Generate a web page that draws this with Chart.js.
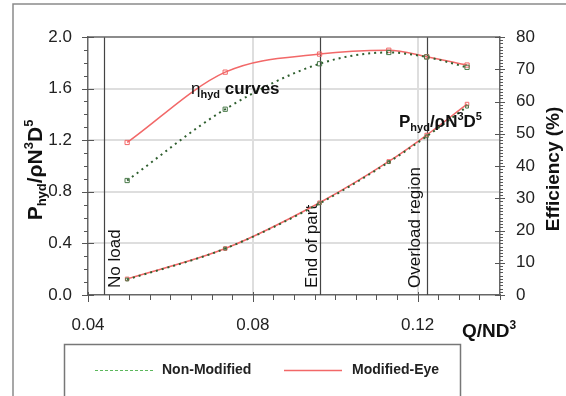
<!DOCTYPE html>
<html>
<head>
<meta charset="utf-8">
<script src="https://cdn.jsdelivr.net/npm/chart.js@4.4.1/dist/chart.umd.min.js"></script>
<style>
  html, body { margin: 0; padding: 0; background: #fff; }
</style>
</head>
<body>
<canvas id="chart" width="566" height="396"></canvas>
<script>
// data
const flow = [0.0495, 0.0733, 0.0962, 0.113, 0.1222, 0.132];          // Q/ND^3
const effNonModified = [35.5, 57.6, 71.7, 75.2, 73.8, 70.6];         // %
const effModified    = [47.3, 69.1, 74.7, 75.9, 73.9, 71.3];         // %
const powNonModified = [0.12, 0.36, 0.71, 1.03, 1.23, 1.46];         // Phyd/rhoN^3D^5
const powModified    = [0.125, 0.36, 0.715, 1.035, 1.24, 1.48];

const xTicks = [0.04, 0.08, 0.12];
const powerTicks = [0, 0.4, 0.8, 1.2, 1.6, 2.0];
const effTicks = [0, 10, 20, 30, 40, 50, 60, 70, 80];

const regionX = [0.0439, 0.0962, 0.1222];
const regionLabels = ["No load", "End of part", "Overload region"];

const FONT = "'Liberation Sans', Arial, sans-serif";
const RED = "#f26868";
const DARKGREEN = "#2f5f2f";
const regionLabelDx = [15, -4, -8]; // label baseline offset from its line

Chart.defaults.font.family = FONT;
Chart.defaults.color = "#222";

// text with sub/superscripts: parts = [text, size, shift]
function richText(ctx, parts, x, y, align, weight) {
    let w = 0;
    for (const p of parts) {
        ctx.font = `${p[3] || weight} ${p[1]}px ${FONT}`;
        w += ctx.measureText(p[0]).width;
    }
    let cx = align === "center" ? x - w / 2 : x;
    ctx.textAlign = "left";
    ctx.textBaseline = "alphabetic";
    for (const p of parts) {
        ctx.font = `${p[3] || weight} ${p[1]}px ${FONT}`;
        ctx.fillText(p[0], cx, y + p[2]);
        cx += ctx.measureText(p[0]).width;
    }
}

const powerLabel = [["P", 21, 0], ["hyd", 13, 4], ["/ρN", 21, 0], ["3", 13, -9], ["D", 21, 0], ["5", 13, -9]];
const powerNote  = [["P", 17, 0], ["hyd", 11, 4], ["/ρN", 17, 0], ["3", 11, -7], ["D", 17, 0], ["5", 11, -7]];

const deco = {
    id: "deco",
    beforeDraw(chart) {
        const ctx = chart.ctx;
        ctx.save();
        ctx.fillStyle = "#fff";
        ctx.fillRect(0, 0, chart.width, chart.height);
        // outer frame
        ctx.strokeStyle = "#8a8a8a";
        ctx.lineWidth = 1.5;
        ctx.beginPath();
        ctx.moveTo(13, chart.height);
        ctx.lineTo(13, 4);
        ctx.lineTo(chart.width, 4);
        ctx.stroke();
        ctx.restore();
    },
    beforeDatasetsDraw(chart) {
        const ctx = chart.ctx;
        const a = chart.chartArea;
        const xs = chart.scales.x;
        ctx.save();
        ctx.strokeStyle = "#444";
        ctx.lineWidth = 1.2;
        regionX.forEach((v, i) => {
            const px = Math.round(xs.getPixelForValue(v)) + 0.5;
            ctx.beginPath();
            ctx.moveTo(px, a.top);
            ctx.lineTo(px, a.bottom);
            ctx.stroke();
            ctx.save();
            ctx.translate(px + regionLabelDx[i], a.bottom - 7);
            ctx.rotate(-Math.PI / 2);
            ctx.fillStyle = "#111";
            ctx.font = `17px ${FONT}`;
            ctx.textAlign = "left";
            ctx.textBaseline = "alphabetic";
            ctx.fillText(regionLabels[i], 0, 0);
            ctx.restore();
        });
        ctx.restore();
    },
    afterDraw(chart) {
        const ctx = chart.ctx;
        const a = chart.chartArea;
        const xs = chart.scales.x, ys = chart.scales.y, y1 = chart.scales.y1;
        ctx.save();
        // top frame
        ctx.strokeStyle = "#666";
        ctx.lineWidth = 1.5;
        ctx.beginPath();
        ctx.moveTo(a.left, a.top);
        ctx.lineTo(a.right, a.top);
        ctx.stroke();

        // tick marks
        ctx.lineWidth = 1;
        ctx.strokeStyle = "#555";
        ctx.beginPath();
        for (let v = 0; v <= 2.0001; v += 0.1) {
            const py = Math.round(ys.getPixelForValue(v)) + 0.5;
            const major = Math.abs(v / 0.4 - Math.round(v / 0.4)) < 1e-6;
            ctx.moveTo(a.left - (major ? 6 : 4), py);
            ctx.lineTo(a.left + (major ? 6 : 0), py);
        }
        for (let v = 0; v <= 80; v += 1) {
            const py = Math.round(y1.getPixelForValue(v)) + 0.5;
            const major = v % 10 === 0;
            ctx.moveTo(a.right - (major ? 5 : 0), py);
            ctx.lineTo(a.right + (major ? 5 : 3), py);
        }
        for (let v = 0.04; v <= 0.1401; v += 0.005) {
            const px = Math.round(xs.getPixelForValue(v)) + 0.5;
            const major = Math.abs(v / 0.04 - Math.round(v / 0.04)) < 1e-6;
            ctx.moveTo(px, a.bottom - (major ? 3 : 0));
            ctx.lineTo(px, a.bottom + (major ? 7 : 5));
        }
        ctx.stroke();

        ctx.fillStyle = "#111";
        // curve notes
        richText(ctx, [["η", 17, 0, "normal"], ["hyd", 11, 4], [" curves", 17, 0]], 191, 94, "left", "bold");
        richText(ctx, powerNote, 399, 127, "left", "bold");

        // axis titles
        ctx.save();
        ctx.translate(42, 170);
        ctx.rotate(-Math.PI / 2);
        richText(ctx, powerLabel, 0, 0, "center", "bold");
        ctx.restore();

        ctx.save();
        ctx.translate(559, 169);
        ctx.rotate(-Math.PI / 2);
        richText(ctx, [["Efficiency (%)", 19, 0]], 0, 0, "center", "bold");
        ctx.restore();

        richText(ctx, [["Q/ND", 19, 0], ["3", 12, -8]], 462, 337, "left", "bold");

        // legend box
        ctx.strokeStyle = "#777";
        ctx.lineWidth = 1.5;
        ctx.strokeRect(64.5, 344.5, 396, 70);
        ctx.lineWidth = 1;
        ctx.strokeStyle = "#5cb85c";
        ctx.setLineDash([3, 2]);
        ctx.beginPath();
        ctx.moveTo(95, 370.5);
        ctx.lineTo(155, 370.5);
        ctx.stroke();
        ctx.setLineDash([]);
        ctx.strokeStyle = RED;
        ctx.lineWidth = 1.5;
        ctx.beginPath();
        ctx.moveTo(284, 370.5);
        ctx.lineTo(342, 370.5);
        ctx.stroke();
        ctx.fillStyle = "#222";
        richText(ctx, [["Non-Modified", 14, 0]], 162, 374, "left", "bold");
        richText(ctx, [["Modified-Eye", 14, 0]], 352, 374, "left", "bold");
        ctx.restore();
    }
};

function pts(ys) {
    return flow.map((x, i) => ({x: x, y: ys[i]}));
}

const dotted = {borderColor: DARKGREEN, borderWidth: 2, borderDash: [2, 4], cubicInterpolationMode: "monotone",
    pointStyle: "rect", pointRadius: 3, pointBorderColor: "#4a7a4a", pointBackgroundColor: "rgba(0,0,0,0)", pointBorderWidth: 1};
const solid = {borderColor: RED, borderWidth: 1.5, cubicInterpolationMode: "monotone",
    pointStyle: "rect", pointRadius: 3, pointBorderColor: RED, pointBackgroundColor: "rgba(0,0,0,0)", pointBorderWidth: 1};

new Chart(document.getElementById("chart"), {
    type: "line",
    data: {
        datasets: [
            {label: "Non-Modified", data: pts(effNonModified), yAxisID: "y1", ...dotted},
            {label: "Non-Modified P", data: pts(powNonModified), yAxisID: "y", ...dotted, pointRadius: 2},
            {label: "Modified-Eye", data: pts(effModified), yAxisID: "y1", ...solid},
            {label: "Modified-Eye P", data: pts(powModified), yAxisID: "y", ...solid, pointRadius: 2.5},
        ],
    },
    options: {
        responsive: false,
        animation: false,
        devicePixelRatio: 1,
        layout: {padding: {top: 37, left: 0, right: 0, bottom: 0}},
        plugins: {legend: {display: false}, tooltip: {enabled: false}},
        scales: {
            x: {
                type: "linear", min: 0.04, max: 0.14,
                afterBuildTicks: s => { s.ticks = xTicks.map(v => ({value: v})); },
                afterFit: s => { s.height = 101; },
                ticks: {callback: v => v.toFixed(2), padding: 20, maxRotation: 0, autoSkip: false,
                    font: {size: 17}, color: "#222"},
                grid: {color: c => (c.tick && c.tick.value === 0.04) ? "rgba(0,0,0,0)" : "#dedede",
                    lineWidth: 2, drawTicks: false},
                border: {color: "#666", width: 1.5},
            },
            y: {
                position: "left", min: 0, max: 2,
                afterBuildTicks: s => { s.ticks = powerTicks.map(v => ({value: v})); },
                afterFit: s => { s.width = 88; },
                ticks: {callback: v => v.toFixed(1), padding: 16, font: {size: 17}, color: "#222"},
                grid: {color: c => (c.tick && (c.tick.value === 0 || c.tick.value === 2)) ? "rgba(0,0,0,0)" : "#dedede",
                    lineWidth: 2, drawTicks: false},
                border: {color: "#666", width: 1.5},
            },
            y1: {
                position: "right", min: 0, max: 80,
                afterBuildTicks: s => { s.ticks = effTicks.map(v => ({value: v})); },
                afterFit: s => { s.width = 66; },
                ticks: {padding: 16, font: {size: 17}, color: "#222"},
                grid: {display: false, drawTicks: false},
                border: {color: "#666", width: 1.5},
            },
        },
    },
    plugins: [deco],
});
</script>
</body>
</html>
